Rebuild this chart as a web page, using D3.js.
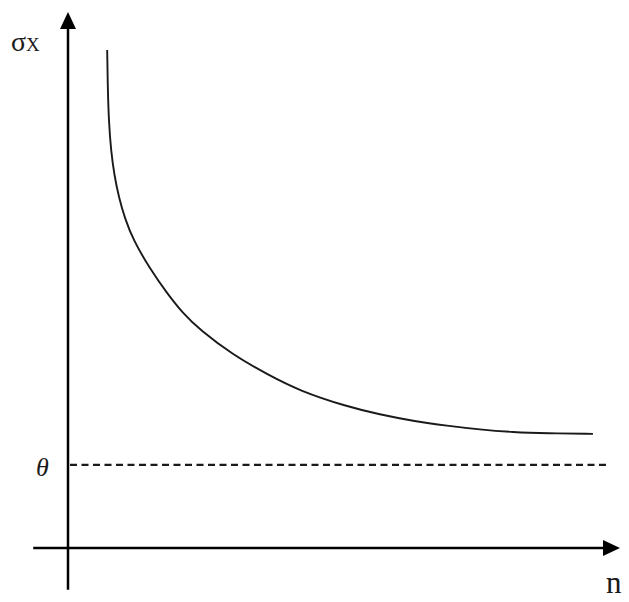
<!DOCTYPE html>
<html>
<head>
<meta charset="utf-8">
<script src="https://cdn.jsdelivr.net/npm/d3@7"></script>
<style>
  body { margin: 0; background: #fff; }
  text { font-family: "Liberation Serif", "DejaVu Serif", serif; fill: #1a1a1a; }
</style>
</head>
<body>
<div id="chart"></div>
<script>
// curve values (x = n, y = sigma), axes run 0..100
const curveN     = [7.1, 7.2, 7.4, 7.8, 8.4, 9.2, 10.3, 11.8, 14.9, 17.9, 20.8, 23.9, 29.9, 36.1, 42.0, 50.5, 56.5, 62.5, 68.7, 74.6, 80.6, 86.8, 95.1];
const curveSigma = [92.9, 86.0, 79.5, 74.0, 69.5, 65.5, 61.5, 57.5, 52.0, 47.6, 43.8, 40.7, 36.0, 32.4, 29.3, 26.4, 24.9, 23.7, 22.8, 22.1, 21.6, 21.4, 21.3];
const thetaLevel = 15.5;
const thetaEnd = 98.2;
const labels = { y: "σ", ySub: "X", x: "n", theta: "θ" };

const width = 629, height = 602;

const svg = d3.select("#chart")
    .append("svg")
    .attr("width", width)
    .attr("height", height);

// scales: origin of the axes at (68, 548)
const x = d3.scaleLinear().domain([0, 100]).range([68, 620]);
const y = d3.scaleLinear().domain([0, 100]).range([548, 12]);

// horizontal axis
svg.append("line")
    .attr("x1", x(-6.3)).attr("y1", y(0))
    .attr("x2", x(100) - 10).attr("y2", y(0))
    .attr("stroke", "#000").attr("stroke-width", 2.5);
svg.append("path")
    .attr("d", `M${x(100)},${y(0)} L${x(100) - 17},${y(0) - 8} L${x(100) - 17},${y(0) + 8} Z`)
    .attr("fill", "#000");

// vertical axis
svg.append("line")
    .attr("x1", x(0)).attr("y1", y(-7.8))
    .attr("x2", x(0)).attr("y2", y(100) + 10)
    .attr("stroke", "#000").attr("stroke-width", 2.5);
svg.append("path")
    .attr("d", `M${x(0)},${y(100)} L${x(0) - 8},${y(100) + 17} L${x(0) + 8},${y(100) + 17} Z`)
    .attr("fill", "#000");

// theta dashed line
svg.append("line")
    .attr("x1", x(0) + 2).attr("y1", y(thetaLevel))
    .attr("x2", x(thetaEnd)).attr("y2", y(thetaLevel))
    .attr("stroke", "#1a1a1a").attr("stroke-width", 2.3)
    .attr("stroke-dasharray", "7,4.5");

// the curve
const line = d3.line()
    .x(d => x(d[0]))
    .y(d => y(d[1]))
    .curve(d3.curveBasis);

svg.append("path")
    .datum(d3.zip(curveN, curveSigma))
    .attr("d", line)
    .attr("fill", "none")
    .attr("stroke", "#1a1a1a")
    .attr("stroke-width", 1.9);

// labels
const yLab = svg.append("text")
    .attr("x", 11).attr("y", 51);
yLab.append("tspan").attr("font-size", 28).text(labels.y);
yLab.append("tspan").attr("font-size", 19).text(labels.ySub);

svg.append("text")
    .attr("x", 36).attr("y", 476)
    .attr("font-size", 26)
    .attr("font-style", "italic")
    .text(labels.theta);

svg.append("text")
    .attr("x", 606).attr("y", 593)
    .attr("font-size", 31)
    .text(labels.x);
</script>
</body>
</html>
